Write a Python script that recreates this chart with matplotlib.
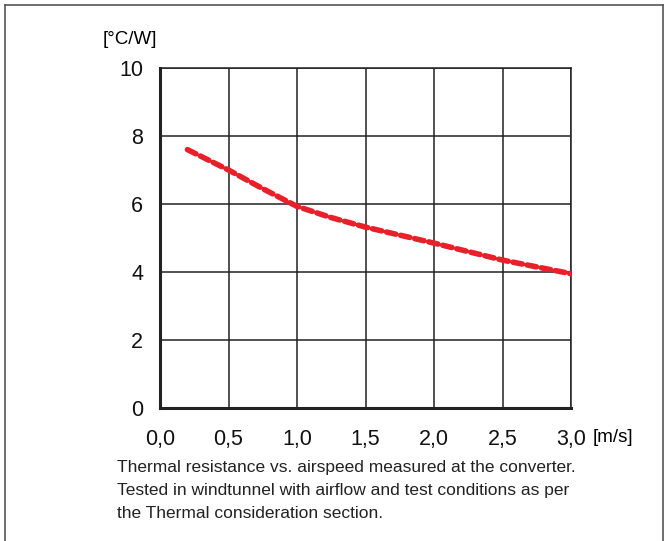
import matplotlib
matplotlib.use("Agg")
import matplotlib.pyplot as plt
from matplotlib.lines import Line2D

# airspeed [m/s] and thermal resistance [°C/W]
airspeed = [0.2, 0.5, 0.75, 1.0, 1.25, 1.5, 2.0, 2.5, 3.0]
resistance = [7.6, 7.0, 6.45, 5.93, 5.6, 5.32, 4.85, 4.35, 3.95]
x_ticks = [0.0, 0.5, 1.0, 1.5, 2.0, 2.5, 3.0]
x_labels = ["0,0", "0,5", "1,0", "1,5", "2,0", "2,5", "3,0"]
y_ticks = [0, 2, 4, 6, 8, 10]
caption = ("Thermal resistance vs. airspeed measured at the converter.\n"
           "Tested in windtunnel with airflow and test conditions as per\n"
           "the Thermal consideration section.")

plt.rcParams['font.family'] = ['Liberation Sans', 'DejaVu Sans']

fig = plt.figure(figsize=(6.71, 5.41), dpi=100)
W, H = 671, 541

# outer frame (open at the bottom)
frame_kw = dict(color='#555555', lw=1.2, transform=fig.transFigure)
fig.add_artist(Line2D([5 / W, 5 / W], [0, 1 - 5 / H], **frame_kw))
fig.add_artist(Line2D([663 / W, 663 / W], [0, 1 - 5 / H], **frame_kw))
fig.add_artist(Line2D([5 / W, 663 / W], [1 - 5 / H, 1 - 5 / H], **frame_kw))

ax = fig.add_axes([160 / W, (H - 408) / H, (571 - 160) / W, (408 - 68) / H])
ax.plot(airspeed, resistance, color='#e8202a', lw=4, ls=(0, (1.7, 0.9)),
        dash_capstyle='round', zorder=3)

ax.set_xlim(0, 3)
ax.set_ylim(0, 10)
ax.set_xticks(x_ticks)
ax.set_xticklabels(x_labels)
ax.set_yticks(y_ticks)
ax.grid(True, color='#222222', lw=1.1)
ax.tick_params(length=0, labelsize=15.5, labelcolor='#111111')
ax.tick_params(axis='x', pad=15)
ax.tick_params(axis='y', pad=12)
for side in ['top', 'right']:
    ax.spines[side].set_linewidth(1.1)
    ax.spines[side].set_color('#222222')
for side in ['left', 'bottom']:
    ax.spines[side].set_linewidth(2.2)
    ax.spines[side].set_color('#222222')

fig.text(103 / W, 1 - 40 / H, "[°C/W]", fontsize=13.5, va='center', ha='left')
fig.text(593 / W, 1 - 437 / H, "[m/s]", fontsize=13.5, va='center', ha='left')
fig.text(117 / W, 1 - 460 / H, caption, fontsize=12.5, va='top', ha='left',
         linespacing=1.68, color='#222222')

fig.savefig("out.png", dpi=100)
